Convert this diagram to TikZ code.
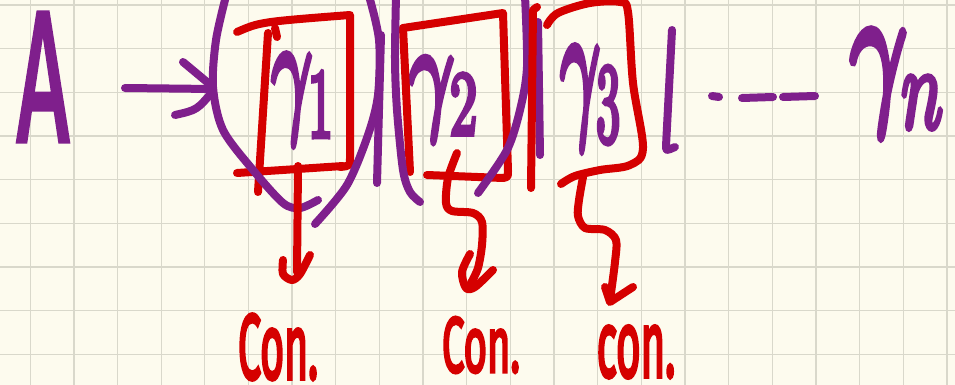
\documentclass[tikz,border=0pt]{standalone}
\usepackage{fontspec}
\setmainfont{Fira Sans}
% felt-pen lettering: fonts drawn with an extra outline stroke
\newfontfamily\markerfont{Fira Sans}[FakeBold=3]
\newfontfamily\conmarker{Fira Sans}[FakeBold=4.5]
\newfontfamily\gammafont{Latin Modern Math}[FakeBold=5.5]
\usepackage{graphicx}
\definecolor{paper}{HTML}{FDFBEE}
\definecolor{gridline}{HTML}{D9D8CB}
\definecolor{ink}{HTML}{7F1F8C}
\definecolor{pen}{HTML}{D50000}
\tikzset{
  inkstroke/.style={draw=ink, line width=8pt, line cap=round, line join=round},
  penstroke/.style={draw=pen, line width=8pt, line cap=round, line join=round},
  inklabel/.style={inner sep=0pt, text=ink},
  penlabel/.style={inner sep=0pt, text=pen, font=\conmarker},
}
\begin{document}
\begin{tikzpicture}[x=1pt, y=-1pt]
  % paper and squared grid
  \useasboundingbox (0,0) rectangle (955,385);
  \fill[paper] (0,0) rectangle (955,385);
  \foreach \i in {0,...,21}
    \draw[gridline, line width=1.3pt] ({30.2+43.65*\i},0) -- ++(0,385);
  \foreach \j in {0,...,8}
    \draw[gridline, line width=1.3pt] (0,{5+43.65*\j}) -- ++(955,0);

  % labels
  \node[inklabel, font=\markerfont] (A) at (43,77) {\scalebox{9.1}[18.5]{A}};
  \node[inklabel, font=\gammafont] (g1) at (304,100) {\scalebox{7.1}[14]{𝛾\textsubscript{1}}};
  \node[inklabel, font=\gammafont] (g2) at (445,100) {\scalebox{7.9}[13]{𝛾\textsubscript{2}}};
  \node[inklabel, font=\gammafont] (g3) at (592,99)  {\scalebox{6.9}[16]{𝛾\textsubscript{3}}};
  \node[inklabel, font=\gammafont] (gn) at (899,84)  {\scalebox{9.9}[16.5]{𝛾\textsubscript{𝑛}}};
  \node[penlabel] (c1) at (278,347) {\scalebox{4.1}[9.2]{Con.}};
  \node[penlabel] (c2) at (481,345) {\scalebox{4}[7.8]{Con.}};
  \node[penlabel] (c3) at (636,352) {\scalebox{4.2}[9.4]{con.}};

  \begin{scope}
  \clip (0,0) rectangle (955,385);
  % red boxes around the gammas
  \draw[penstroke] (237,32) .. controls (260,22) .. (350,15) -- (350,158)
                   .. controls (350,166) .. (340,167);
  \draw[penstroke] (237,173) -- (343,166);
  \draw[penstroke] (268,33) -- (258,192);
  \draw[penstroke] (275,28) -- (277,37);
  \draw[penstroke] (403,28) -- (410,172);
  \draw[penstroke] (403,28) -- (503,13) -- (508,171) .. controls (508,177) .. (503,178);
  \draw[penstroke] (427,175) -- (503,178);
  \draw[penstroke] plot[smooth, tension=0.55] coordinates
    {(547,25) (558,13) (590,3) (620,2) (628,12) (633,83) (643,148) (630,165) (600,170) (575,176) (561,184)};

  % purple grouping curves, bars, arrow and dashes
  \draw[inkstroke] plot[smooth] coordinates
    {(226,-4) (216,40) (213,87) (223,130) (253,170) (283,203) (300,208) (318,200)};
  \draw[inkstroke] plot[smooth] coordinates
    {(369,-4) (379,40) (378,95) (368,135) (347,185) (315,224)};
  \draw[inkstroke] (381,35) -- (377,183);
  \draw[inkstroke] plot[smooth] coordinates
    {(396,-4) (395,60) (397,110) (403,170) (410,192) (420,202)};
  \draw[inkstroke] plot[smooth] coordinates
    {(525,-4) (527,67) (520,110) (507,150) (478,193)};
  \draw[inkstroke] (538,22) -- (540,155);
  \draw[inkstroke] (672,30) -- (666,146) .. controls (666,151) .. (675,147);
  \draw[inkstroke] (712,96) -- (719,97);
  \draw[inkstroke] (742,98) -- (773,97);
  \draw[inkstroke] (783,97) -- (815,96);
  \draw[inkstroke] (125,88) -- (213,89);
  \draw[inkstroke] (183,62) -- (213,87);
  \draw[inkstroke] (175,115) .. controls (197,110) .. (213,91);

  % red bar and the arrows down to the labels
  \draw[penstroke] (537,7) -- (533,10) -- (531,188);
  \draw[penstroke] (298,166) -- (297,272);
  \draw[penstroke] plot[smooth] coordinates {(283,260) (283,274) (292,280) (300,274) (310,255)};
  \draw[penstroke] plot[smooth] coordinates
    {(457,153) (448,178) (446,203) (452,211) (473,213) (482,222) (482,245) (478,268) (471,283)};
  \draw[penstroke] plot[smooth] coordinates {(470,254) (462,272) (466,288) (475,287) (493,270)};
  \draw[penstroke] plot[smooth] coordinates
    {(583,177) (579,200) (578,216) (585,228) (605,230) (616,240) (615,262) (610,300)};
  \draw[penstroke] (605,287) -- (610,302) -- (633,287);
  \end{scope}
\end{tikzpicture}
\end{document}
